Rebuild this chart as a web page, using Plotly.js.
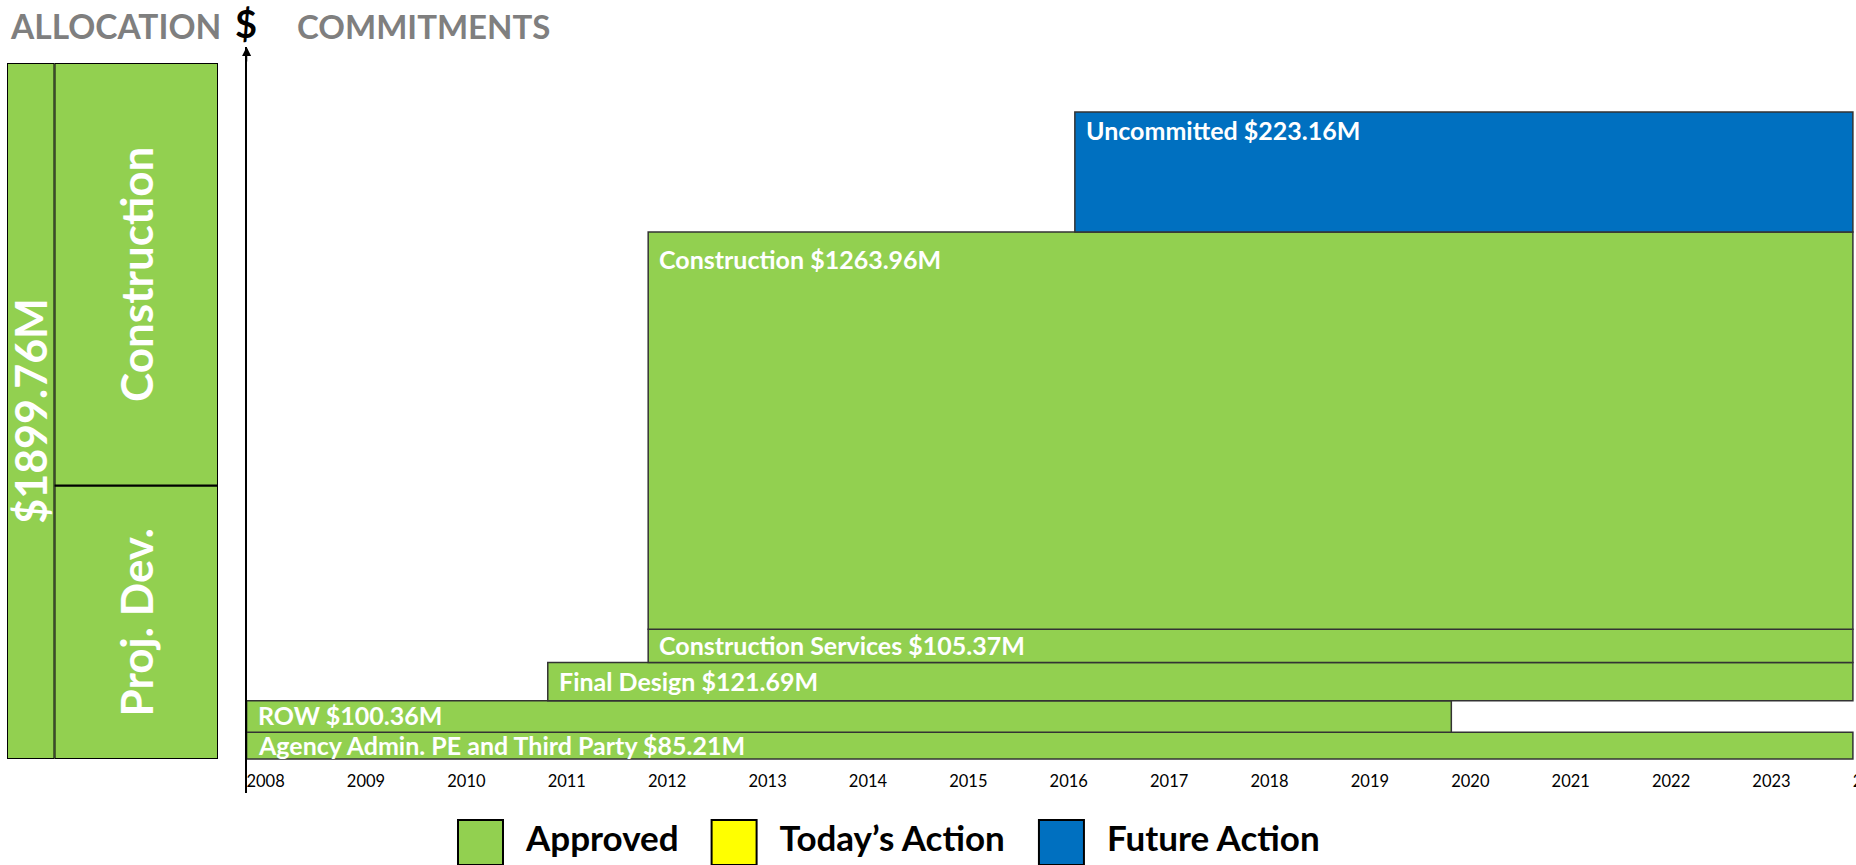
<!DOCTYPE html>
<html>
<head>
<meta charset="utf-8">
<script src="https://cdn.plot.ly/plotly-3.0.1.min.js"></script>
<style>
html,body{margin:0;padding:0;background:#fff;overflow:hidden}
#chart{width:1856px;height:865px}
</style>
</head>
<body>
<div id="chart"></div>
<script>
// ---------------- data ----------------
const phases = ["Agency Admin. PE and Third Party", "ROW", "Final Design", "Construction Services", "Construction", "Uncommitted"];
const amountsM = [85.21, 100.36, 121.69, 105.37, 1263.96, 223.16];
// vertical extent of each box as drawn in the reference ($M scale; the uncommitted box is drawn taller than its amount)
const drawnHeightM = [85.21, 100.36, 121.69, 105.37, 1263.96, 382];
const startYear = [2008, 2008, 2011, 2012, 2012, 2016.25];
const endYear = [2024, 2020, 2024, 2024, 2024, 2024];
const phaseStatus = ["Approved", "Approved", "Approved", "Approved", "Approved", "Future Action"];
const years = [2008, 2009, 2010, 2011, 2012, 2013, 2014, 2015, 2016, 2017, 2018, 2019, 2020, 2021, 2022, 2023, 2024];

const allocationTotalM = 1899.76;
const allocationGroups = ["Proj. Dev.", "Construction"];
const allocationDrawnShare = [0.393, 0.607]; // share of the allocation box height as drawn

const statuses = ["Approved", "Today\u2019s Action", "Future Action"];
const statusColors = ["#92D050", "#FFFF00", "#0070C0"];

// ---------------- layout constants ----------------
const W = 1856, H = 865;
const FONT = "Lato, 'Open Sans', sans-serif";
const px2fx = p => p / W;
const px2fy = p => 1 - p / H;

const plotLeft = 246.5, plotTop = 47, plotBottom = 793, zeroPx = 759;
const pxPerYear = 100.4;
const pxPerM = (zeroPx - 232) / (amountsM.slice(0, 5).reduce((a, b) => a + b, 0));
const yMin = -(plotBottom - zeroPx) / pxPerM;
const yMax = (zeroPx - plotTop) / pxPerM;
const xMin = years[0] - 0.001;
const xMax = years[0] + (W - plotLeft) / pxPerYear;

const colorOf = s => statusColors[statuses.indexOf(s)];

// ---------------- main commitment boxes ----------------
const bases = [];
let acc = 0;
drawnHeightM.forEach(h => { bases.push(acc); acc += h; });

const traces = [];
["Approved", "Future Action"].forEach(st => {
  const idx = phases.map((_, i) => i).filter(i => phaseStatus[i] === st);
  traces.push({
    type: "bar", orientation: "h", name: st, showlegend: false,
    xaxis: "x", yaxis: "y",
    y: idx.map(i => bases[i] + drawnHeightM[i] / 2),
    width: idx.map(i => drawnHeightM[i]),
    base: idx.map(i => startYear[i]),
    x: idx.map(i => endYear[i] - startYear[i]),
    marker: { color: colorOf(st), line: { color: "#333333", width: 1.5 } },
    hoverinfo: "skip"
  });
});

const annotations = [];
phases.forEach((p, i) => {
  const hPx = drawnHeightM[i] * pxPerM;
  const tall = hPx > 60;
  const veryTall = hPx > 200;
  annotations.push({
    xref: "x", yref: "y",
    x: startYear[i],
    y: tall ? bases[i] + drawnHeightM[i] : bases[i] + drawnHeightM[i] / 2,
    xanchor: "left", yanchor: tall ? "top" : "middle",
    xshift: 9, yshift: tall ? (veryTall ? -10 : -1) : 1,
    showarrow: false,
    text: p + " $" + amountsM[i].toFixed(2) + "M",
    font: { family: FONT, size: 25, color: "#ffffff", weight: 700 }
  });
});

// arrow on top of the $ axis
annotations.push({
  xref: "x", yref: "y", x: years[0], y: yMax,
  ax: 0, ay: 16, axref: "pixel", ayref: "pixel",
  showarrow: true, arrowhead: 2, arrowsize: 1.4, arrowwidth: 1.3, arrowcolor: "#000",
  text: ""
});

// headers
annotations.push({ xref: "paper", yref: "paper", x: px2fx(115), y: px2fy(26), xanchor: "center", yanchor: "middle",
  showarrow: false, text: "ALLOCATION", font: { family: FONT, size: 33.5, color: "#7F7F7F", weight: 700 } });
annotations.push({ xref: "paper", yref: "paper", x: px2fx(423), y: px2fy(26), xanchor: "center", yanchor: "middle",
  showarrow: false, text: "COMMITMENTS", font: { family: FONT, size: 33, color: "#7F7F7F", weight: 700 } });
annotations.push({ xref: "paper", yref: "paper", x: px2fx(246), y: px2fy(23), xanchor: "center", yanchor: "middle",
  showarrow: false, text: "$", font: { family: FONT, size: 38, color: "#000000", weight: 700 } });

// ---------------- allocation box ----------------
const allocText = { family: FONT, size: 43, color: "#ffffff", weight: 700 };
traces.push({
  type: "bar", xaxis: "x2", yaxis: "y2", showlegend: false,
  x: ["total"], y: [1], base: [0], width: [1],
  text: ["$" + allocationTotalM.toFixed(2) + "M"],
  textposition: "inside", textangle: -90, insidetextanchor: "middle", constraintext: "none",
  textfont: allocText,
  marker: { color: colorOf("Approved"), line: { color: "#000", width: 2 } },
  hoverinfo: "skip"
});
const allocBases = [0, allocationDrawnShare[0]];
traces.push({
  type: "bar", xaxis: "x3", yaxis: "y2", showlegend: false,
  x: allocationGroups.map(() => "group"), y: allocationDrawnShare, base: allocBases, width: allocationGroups.map(() => 1),
  text: allocationGroups,
  textposition: "inside", textangle: -90, insidetextanchor: "middle", constraintext: "none",
  textfont: { family: FONT, size: 44, color: "#ffffff", weight: 700 },
  marker: { color: colorOf("Approved"), line: { color: "#000", width: 2 } },
  hoverinfo: "skip"
});

// ---------------- legend row ----------------
const LEG_FONT = 35;
const ctx = document.createElement("canvas").getContext("2d");
ctx.font = "700 " + LEG_FONT + "px Lato";
const sqSize = 45, sqHalf = 23.5, textGap = 22, itemGap = 32;
const sqX = [], txtX = [];
let cx = 480.5;
statuses.forEach(s => {
  sqX.push(cx);
  const tx = cx + sqHalf + textGap;
  txtX.push(tx);
  cx = tx + ctx.measureText(s).width + itemGap + sqHalf;
});
traces.push({
  type: "scatter", mode: "markers", xaxis: "x4", yaxis: "y4", showlegend: false, cliponaxis: false,
  x: sqX, y: statuses.map(() => 0),
  marker: { symbol: "square", size: sqSize, color: statusColors, line: { color: "#000", width: 2 } },
  hoverinfo: "skip"
});
traces.push({
  type: "scatter", mode: "text", xaxis: "x4", yaxis: "y4", showlegend: false, cliponaxis: false,
  x: txtX, y: statuses.map(() => 0), text: statuses, textposition: "middle right",
  textfont: { family: FONT, size: LEG_FONT, color: "#000", weight: 700 },
  hoverinfo: "skip"
});

const layout = {
  width: W, height: H,
  margin: { l: 0, r: 0, t: 0, b: 0, pad: 0 },
  paper_bgcolor: "#fff", plot_bgcolor: "rgba(0,0,0,0)",
  barmode: "overlay", bargap: 0,
  hovermode: false,
  showlegend: false,
  font: { family: FONT },
  xaxis: {
    domain: [px2fx(plotLeft), 1], range: [xMin, xMax],
    anchor: "free", position: px2fy(769),
    tickmode: "array", tickvals: years, ticktext: years.map(String),
    ticks: "", showline: false, showgrid: false, zeroline: false,
    ticklabelshift: 19, ticklabeloverflow: "allow",
    tickfont: { family: FONT, size: 16.5, color: "#000" },
    fixedrange: true
  },
  yaxis: {
    domain: [px2fy(plotBottom), px2fy(plotTop)], range: [yMin, yMax],
    anchor: "x", showline: true, linecolor: "#000", linewidth: 1.3,
    showticklabels: false, ticks: "", showgrid: false, zeroline: false, fixedrange: true
  },
  xaxis2: { domain: [px2fx(7), px2fx(54.5)], range: [-0.5, 0.5], anchor: "y2", visible: false, type: "category", fixedrange: true },
  xaxis3: { domain: [px2fx(54.5), px2fx(218)], range: [-0.5, 0.5], anchor: "y2", visible: false, type: "category", fixedrange: true },
  yaxis2: { domain: [px2fy(759), px2fy(63)], range: [0, 1], anchor: "x2", visible: false, fixedrange: true },
  xaxis4: { domain: [0, 1], range: [0, W], anchor: "y4", visible: false, fixedrange: true },
  yaxis4: { domain: [0, 45 / H], range: [-1, 1], anchor: "x4", visible: false, fixedrange: true },
  annotations: annotations
};

Plotly.newPlot("chart", traces, layout, { displayModeBar: false, staticPlot: true });
</script>
</body>
</html>
